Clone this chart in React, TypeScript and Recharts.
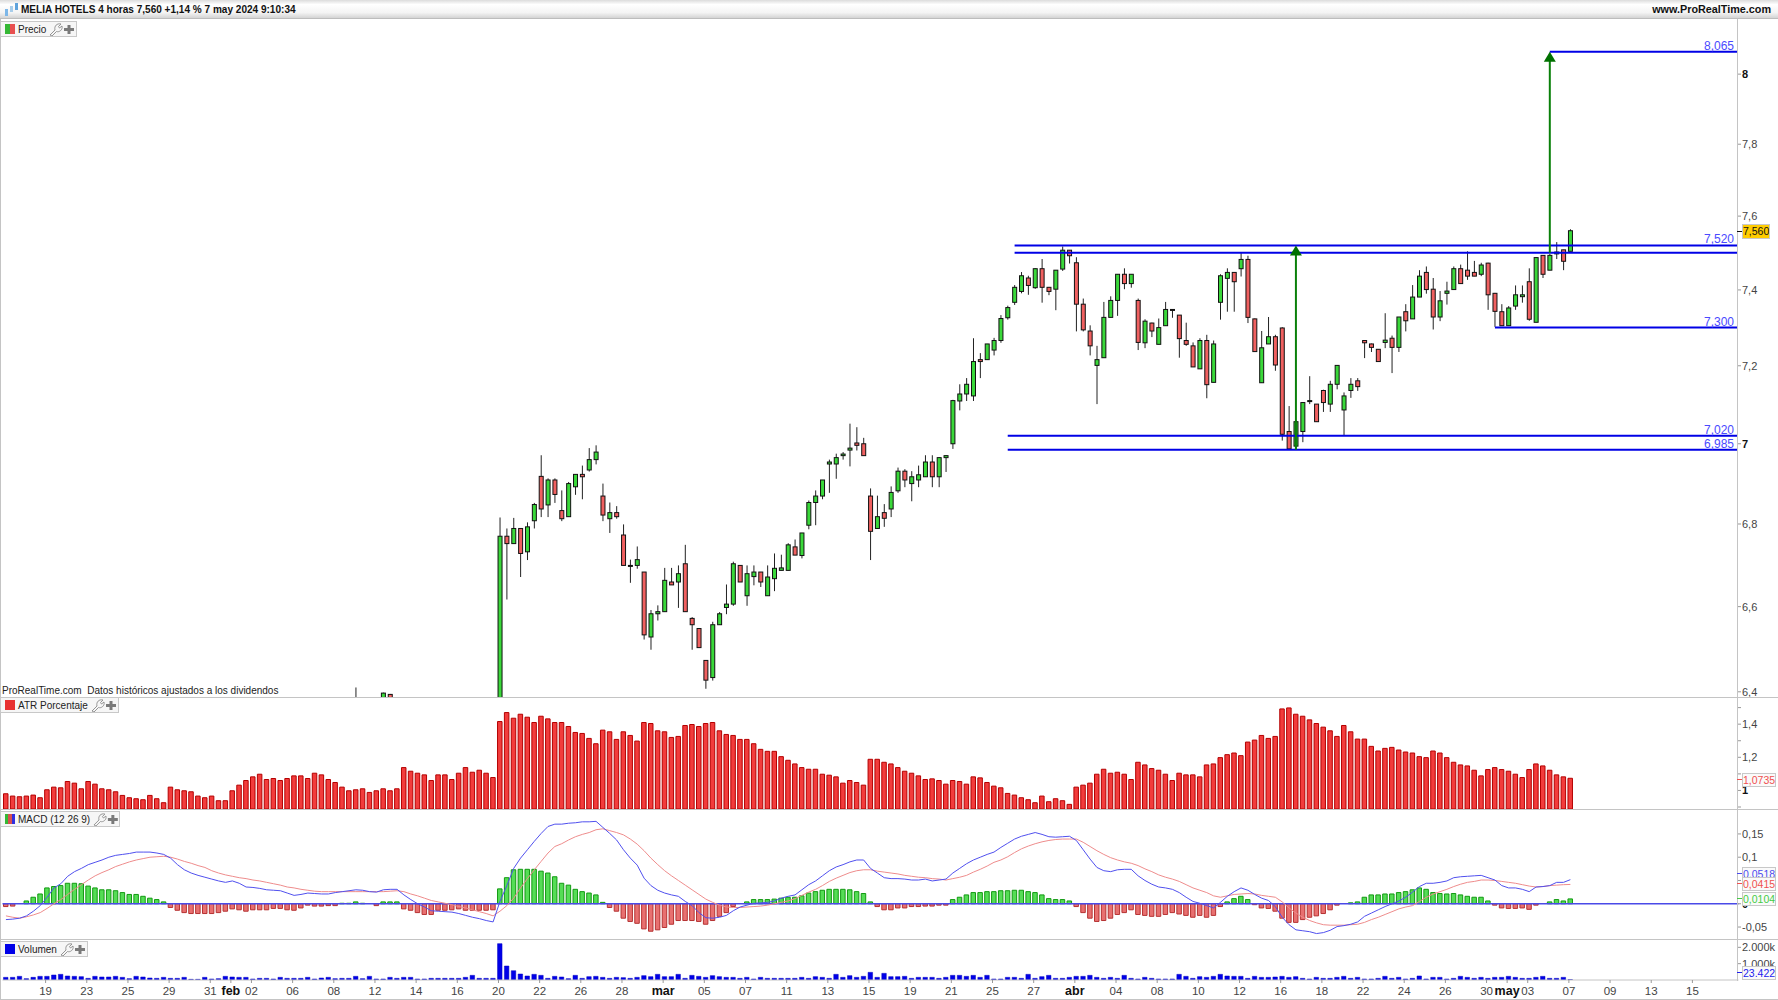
import { Bar, Cell, ComposedChart, Line, ReferenceLine, XAxis, YAxis } from 'recharts'

// bar slots on the shared time axis, the last ones are the empty space to the right
const SLOTS = 253
const CANDLE_START = 72
const FONT = '"Liberation Sans", Arial, sans-serif'

const atrValues = [
  0.98, 0.966, 0.962, 0.966, 0.972, 0.956, 1.004, 1.02, 1.016, 1.054,
  1.044, 1.01, 1.054, 1.038, 1.01, 1.004, 0.992, 0.97, 0.956, 0.95,
  0.944, 0.97, 0.95, 0.926, 1.02, 1.004, 0.998, 0.992, 0.966, 0.956,
  0.966, 0.938, 0.938, 0.998, 1.032, 1.06, 1.082, 1.098, 1.066, 1.072,
  1.06, 1.072, 1.088, 1.088, 1.072, 1.104, 1.094, 1.066, 1.048, 1.02,
  0.998, 1.004, 1.01, 0.988, 0.998, 1.01, 0.998, 1.01, 1.138, 1.116,
  1.104, 1.094, 1.06, 1.094, 1.094, 1.066, 1.104, 1.138, 1.11, 1.122,
  1.104, 1.078, 1.416, 1.47, 1.436, 1.46, 1.442, 1.41, 1.448, 1.432,
  1.41, 1.41, 1.386, 1.35, 1.344, 1.314, 1.282, 1.364, 1.354, 1.308,
  1.354, 1.332, 1.298, 1.41, 1.404, 1.36, 1.354, 1.32, 1.326, 1.392,
  1.398, 1.386, 1.404, 1.41, 1.36, 1.338, 1.332, 1.308, 1.308, 1.282,
  1.248, 1.236, 1.236, 1.204, 1.182, 1.16, 1.138, 1.128, 1.128, 1.098,
  1.092, 1.082, 1.044, 1.06, 1.048, 1.032, 1.188, 1.188, 1.17, 1.16,
  1.138, 1.116, 1.104, 1.088, 1.066, 1.07, 1.06, 1.038, 1.06, 1.054,
  1.038, 1.082, 1.076, 1.048, 1.026, 1.016, 0.982, 0.972, 0.956, 0.944,
  0.926, 0.966, 0.932, 0.95, 0.938, 0.916, 1.02, 1.032, 1.044, 1.098,
  1.128, 1.104, 1.11, 1.098, 1.066, 1.17, 1.154, 1.132, 1.122, 1.098,
  1.06, 1.104, 1.094, 1.094, 1.082, 1.154, 1.16, 1.198, 1.216, 1.226,
  1.21, 1.292, 1.304, 1.332, 1.314, 1.326, 1.492, 1.498, 1.46, 1.448,
  1.426, 1.404, 1.382, 1.36, 1.326, 1.392, 1.354, 1.31, 1.31, 1.266,
  1.238, 1.254, 1.26, 1.244, 1.232, 1.226, 1.204, 1.198, 1.238, 1.226,
  1.198, 1.17, 1.154, 1.148, 1.122, 1.088, 1.126, 1.138, 1.126, 1.116,
  1.098, 1.078, 1.126, 1.16, 1.148, 1.122, 1.094, 1.082, 1.0735,
]

const macdHist = [
  -0.006, -0.005, 0, 0.006, 0.014, 0.021, 0.034, 0.037, 0.039, 0.044,
  0.044, 0.043, 0.038, 0.034, 0.03, 0.03, 0.028, 0.024, 0.02, 0.02,
  0.016, 0.012, 0.009, 0.004, -0.008, -0.014, -0.019, -0.021, -0.021, -0.021,
  -0.021, -0.019, -0.016, -0.011, -0.013, -0.016, -0.013, -0.013, -0.013, -0.01,
  -0.01, -0.013, -0.014, -0.009, -0.003, -0.005, -0.005, -0.004, -0.004, 0.001,
  0.001, 0.004, 0.001, 0, -0.004, 0.004, 0.004, 0.004, -0.011, -0.014,
  -0.019, -0.023, -0.023, -0.014, -0.014, -0.013, -0.011, -0.014, -0.014, -0.014,
  -0.014, -0.013, 0.032, 0.056, 0.073, 0.074, 0.074, 0.074, 0.07, 0.066,
  0.058, 0.044, 0.04, 0.031, 0.026, 0.023, 0.019, 0.003, -0.008, -0.016,
  -0.031, -0.038, -0.042, -0.054, -0.059, -0.056, -0.051, -0.044, -0.036, -0.036,
  -0.036, -0.038, -0.044, -0.036, -0.027, -0.019, -0.006, 0, 0.004, 0.009,
  0.009, 0.009, 0.01, 0.012, 0.014, 0.014, 0.017, 0.023, 0.026, 0.029,
  0.031, 0.031, 0.031, 0.03, 0.026, 0.022, 0.004, -0.006, -0.013, -0.013,
  -0.009, -0.009, -0.006, -0.006, -0.005, -0.005, -0.003, -0.003, 0.009, 0.014,
  0.019, 0.024, 0.024, 0.026, 0.026, 0.028, 0.028, 0.029, 0.029, 0.026,
  0.024, 0.019, 0.011, 0.009, 0.009, 0.006, -0.006, -0.019, -0.031, -0.038,
  -0.036, -0.031, -0.023, -0.019, -0.013, -0.023, -0.025, -0.027, -0.027, -0.023,
  -0.019, -0.022, -0.025, -0.029, -0.025, -0.029, -0.025, -0.006, 0.004, 0.011,
  0.016, 0.009, -0.002, -0.009, -0.01, -0.016, -0.031, -0.04, -0.04, -0.034,
  -0.029, -0.026, -0.021, -0.013, -0.003, 0, 0.002, 0.004, 0.014, 0.019,
  0.019, 0.021, 0.021, 0.024, 0.026, 0.03, 0.034, 0.031, 0.024, 0.022,
  0.021, 0.022, 0.019, 0.016, 0.014, 0.014, 0.006, -0.003, -0.009, -0.01,
  -0.01, -0.009, -0.012, -0.003, 0, 0.004, 0.009, 0.006, 0.0104,
]

const macdLine = [
  -0.034, -0.033, -0.031, -0.026, -0.016, -0.004, 0.014, 0.034, 0.043, 0.059,
  0.069, 0.076, 0.084, 0.089, 0.094, 0.1, 0.104, 0.106, 0.108, 0.111,
  0.111, 0.111, 0.109, 0.106, 0.098, 0.084, 0.073, 0.066, 0.061, 0.057,
  0.053, 0.049, 0.046, 0.049, 0.044, 0.036, 0.035, 0.033, 0.03, 0.029,
  0.028, 0.023, 0.018, 0.02, 0.023, 0.022, 0.021, 0.021, 0.024, 0.026,
  0.028, 0.03, 0.029, 0.026, 0.025, 0.03, 0.031, 0.031, 0.019, 0.009,
  0, -0.007, -0.015, -0.016, -0.017, -0.018, -0.021, -0.025, -0.029, -0.032,
  -0.036, -0.039, 0.005, 0.039, 0.076, 0.098, 0.116, 0.134, 0.151, 0.166,
  0.171, 0.171, 0.173, 0.174, 0.176, 0.176, 0.177, 0.164, 0.151, 0.137,
  0.116, 0.098, 0.083, 0.055, 0.039, 0.029, 0.023, 0.019, 0.016, 0.005,
  -0.004, -0.019, -0.03, -0.031, -0.029, -0.025, -0.015, -0.007, -0.003, 0.001,
  0.002, 0.003, 0.006, 0.012, 0.016, 0.019, 0.03, 0.041, 0.049, 0.06,
  0.071, 0.079, 0.084, 0.09, 0.094, 0.094, 0.076, 0.066, 0.056, 0.054,
  0.054, 0.053, 0.051, 0.051, 0.053, 0.049, 0.051, 0.053, 0.066, 0.076,
  0.086, 0.094, 0.1, 0.106, 0.111, 0.121, 0.13, 0.139, 0.145, 0.149,
  0.153, 0.149, 0.144, 0.143, 0.144, 0.145, 0.136, 0.116, 0.096, 0.078,
  0.071, 0.069, 0.073, 0.074, 0.074, 0.06, 0.05, 0.042, 0.036, 0.034,
  0.031, 0.024, 0.014, 0.005, 0.001, -0.004, -0.009, 0.003, 0.016, 0.026,
  0.034, 0.029, 0.02, 0.012, 0.007, -0.006, -0.029, -0.045, -0.056, -0.058,
  -0.06, -0.064, -0.062, -0.057, -0.049, -0.047, -0.044, -0.039, -0.027, -0.02,
  -0.013, -0.006, 0, 0.006, 0.014, 0.025, 0.037, 0.044, 0.044, 0.046,
  0.049, 0.056, 0.058, 0.059, 0.06, 0.061, 0.056, 0.051, 0.039, 0.034,
  0.034, 0.031, 0.026, 0.036, 0.037, 0.039, 0.046, 0.046, 0.0518,
]

const macdSignal = [
  -0.026, -0.029, -0.031, -0.028, -0.024, -0.019, -0.01, 0, 0.009, 0.02,
  0.031, 0.041, 0.051, 0.06, 0.067, 0.073, 0.08, 0.085, 0.09, 0.094,
  0.097, 0.1, 0.101, 0.102, 0.1, 0.096, 0.091, 0.087, 0.082, 0.078,
  0.071, 0.066, 0.062, 0.059, 0.056, 0.054, 0.051, 0.049, 0.046, 0.043,
  0.04, 0.036, 0.034, 0.031, 0.029, 0.027, 0.026, 0.026, 0.026, 0.026,
  0.026, 0.026, 0.026, 0.026, 0.026, 0.026, 0.027, 0.028, 0.026, 0.021,
  0.017, 0.012, 0.007, 0.004, 0.001, -0.002, -0.006, -0.009, -0.013, -0.017,
  -0.021, -0.026, -0.016, -0.004, 0.012, 0.034, 0.054, 0.073, 0.091, 0.109,
  0.123, 0.129, 0.137, 0.144, 0.149, 0.153, 0.159, 0.161, 0.157, 0.153,
  0.148, 0.139, 0.128, 0.114, 0.098, 0.084, 0.071, 0.06, 0.05, 0.04,
  0.03, 0.02, 0.01, 0.003, -0.003, -0.007, -0.008, -0.008, -0.007, -0.006,
  -0.005, -0.003, 0, 0.003, 0.006, 0.011, 0.018, 0.025, 0.031, 0.039,
  0.048, 0.055, 0.061, 0.067, 0.071, 0.073, 0.073, 0.07, 0.068, 0.066,
  0.064, 0.061, 0.059, 0.057, 0.056, 0.054, 0.053, 0.051, 0.054, 0.057,
  0.061, 0.068, 0.074, 0.081, 0.089, 0.094, 0.101, 0.11, 0.118, 0.124,
  0.129, 0.133, 0.136, 0.138, 0.139, 0.139, 0.139, 0.132, 0.123, 0.114,
  0.106, 0.099, 0.094, 0.09, 0.087, 0.082, 0.075, 0.069, 0.062, 0.057,
  0.053, 0.048, 0.041, 0.034, 0.029, 0.024, 0.017, 0.014, 0.017, 0.02,
  0.021, 0.022, 0.021, 0.018, 0.016, 0.014, 0.004, -0.009, -0.02, -0.029,
  -0.036, -0.041, -0.045, -0.046, -0.046, -0.046, -0.045, -0.044, -0.04, -0.034,
  -0.029, -0.023, -0.017, -0.011, -0.007, -0.004, 0.005, 0.014, 0.021, 0.026,
  0.031, 0.037, 0.042, 0.046, 0.048, 0.051, 0.051, 0.05, 0.048, 0.046,
  0.044, 0.041, 0.038, 0.036, 0.037, 0.039, 0.04, 0.041, 0.0415,
]

// volume in thousands
const volumeK = [
  163, 163, 224, 82, 163, 224, 224, 306, 347, 245,
  224, 204, 102, 224, 184, 184, 224, 163, 82, 224,
  184, 122, 102, 163, 102, 102, 163, 41, 41, 163,
  61, 82, 224, 184, 163, 163, 61, 102, 102, 61,
  163, 102, 102, 102, 163, 61, 122, 163, 82, 102,
  102, 224, 82, 224, 61, 61, 163, 102, 163, 163,
  61, 61, 102, 102, 102, 102, 102, 163, 286, 102,
  102, 102, 2224, 857, 571, 367, 245, 347, 286, 102,
  224, 184, 82, 286, 102, 204, 224, 163, 102, 163,
  143, 102, 163, 265, 204, 347, 204, 204, 347, 102,
  286, 224, 163, 265, 204, 163, 163, 102, 163, 61,
  163, 102, 102, 102, 102, 102, 163, 102, 204, 163,
  102, 347, 163, 265, 163, 224, 469, 163, 408, 204,
  204, 224, 102, 163, 163, 163, 102, 163, 286, 286,
  224, 286, 163, 286, 61, 61, 163, 163, 102, 347,
  102, 204, 286, 102, 102, 163, 224, 224, 286, 163,
  102, 163, 102, 286, 102, 61, 163, 102, 61, 61,
  61, 347, 224, 102, 204, 163, 224, 347, 245, 224,
  224, 102, 224, 163, 163, 184, 224, 163, 204, 102,
  61, 163, 102, 102, 163, 224, 102, 163, 61, 61,
  102, 224, 102, 163, 61, 102, 245, 61, 163, 163,
  61, 102, 224, 163, 102, 163, 102, 163, 163, 224,
  163, 102, 102, 163, 224, 102, 102, 163, 23.422,
]

const opens = [
  6.3, 6.77, 6.752, 6.789, 6.732, 6.808, 6.918, 6.847, 6.909, 6.833,
  6.818, 6.892, 6.923, 6.934, 6.96, 6.869, 6.813, 6.828, 6.773, 6.698,
  6.699, 6.683, 6.528, 6.583, 6.588, 6.659, 6.659, 6.703, 6.572, 6.548,
  6.473, 6.433, 6.557, 6.598, 6.606, 6.699, 6.626, 6.672, 6.683, 6.626,
  6.667, 6.687, 6.687, 6.744, 6.723, 6.797, 6.853, 6.869, 6.949, 6.949,
  6.97, 6.984, 7.002, 7, 6.869, 6.789, 6.828, 6.837, 6.882, 6.931,
  6.9, 6.909, 6.917, 6.954, 6.917, 6.965, 7, 7.109, 7.127, 7.122,
  7.216, 7.216, 7.241, 7.266, 7.326, 7.367, 7.396, 7.432, 7.406, 7.457,
  7.407, 7.402, 7.456, 7.507, 7.473, 7.362, 7.291, 7.201, 7.221, 7.327,
  7.372, 7.442, 7.417, 7.372, 7.26, 7.312, 7.256, 7.305, 7.348, 7.333,
  7.266, 7.252, 7.192, 7.266, 7.157, 7.367, 7.431, 7.447, 7.457, 7.482,
  7.323, 7.156, 7.257, 7.276, 7.299, 7.031, 6.994, 7.031, 7.108, 7.101,
  7.136, 7.101, 7.152, 7.086, 7.136, 7.161, 7.266, 7.257, 7.243, 7.261,
  7.272, 7.248, 7.342, 7.323, 7.381, 7.447, 7.402, 7.328, 7.391, 7.401,
  7.457, 7.453, 7.447, 7.442, 7.472, 7.391, 7.342, 7.305, 7.357, 7.382,
  7.422, 7.314, 7.493, 7.453, 7.497, 7.508, 7.504,
]

const highs = [
  6.816, 6.789, 6.815, 6.789, 6.804, 6.852, 6.971, 6.913, 6.913, 6.883,
  6.904, 6.923, 6.945, 6.989, 6.996, 6.9, 6.853, 6.844, 6.799, 6.713,
  6.745, 6.683, 6.592, 6.603, 6.693, 6.693, 6.699, 6.749, 6.575, 6.548,
  6.473, 6.564, 6.587, 6.653, 6.708, 6.699, 6.699, 6.699, 6.683, 6.699,
  6.728, 6.725, 6.753, 6.762, 6.778, 6.858, 6.883, 6.909, 6.96, 6.975,
  6.979, 7.051, 7.042, 7.015, 6.888, 6.87, 6.849, 6.893, 6.94, 6.936,
  6.931, 6.945, 6.971, 6.971, 6.966, 6.971, 7.112, 7.152, 7.168, 7.272,
  7.233, 7.257, 7.273, 7.333, 7.358, 7.413, 7.448, 7.438, 7.458, 7.483,
  7.408, 7.453, 7.517, 7.507, 7.488, 7.377, 7.306, 7.252, 7.368, 7.383,
  7.442, 7.458, 7.442, 7.377, 7.322, 7.313, 7.324, 7.368, 7.348, 7.333,
  7.313, 7.261, 7.272, 7.281, 7.266, 7.442, 7.458, 7.447, 7.502, 7.492,
  7.324, 7.291, 7.328, 7.281, 7.301, 7.096, 7.06, 7.106, 7.173, 7.101,
  7.138, 7.161, 7.202, 7.131, 7.168, 7.168, 7.266, 7.258, 7.243, 7.338,
  7.279, 7.328, 7.362, 7.413, 7.453, 7.463, 7.432, 7.397, 7.422, 7.463,
  7.468, 7.504, 7.478, 7.473, 7.473, 7.392, 7.362, 7.357, 7.412, 7.412,
  7.458, 7.488, 7.493, 7.497, 7.529, 7.508, 7.564,
]

const lows = [
  6.28, 6.617, 6.752, 6.671, 6.712, 6.789, 6.817, 6.817, 6.852, 6.807,
  6.818, 6.872, 6.861, 6.93, 6.948, 6.807, 6.778, 6.813, 6.699, 6.657,
  6.691, 6.522, 6.498, 6.567, 6.588, 6.652, 6.597, 6.588, 6.498, 6.503,
  6.407, 6.426, 6.557, 6.582, 6.602, 6.659, 6.602, 6.651, 6.647, 6.626,
  6.637, 6.687, 6.687, 6.724, 6.716, 6.787, 6.797, 6.861, 6.877, 6.912,
  6.96, 6.943, 6.983, 6.97, 6.712, 6.789, 6.793, 6.817, 6.877, 6.891,
  6.856, 6.891, 6.917, 6.891, 6.891, 6.929, 6.987, 7.085, 7.109, 7.109,
  7.168, 7.216, 7.227, 7.26, 7.321, 7.36, 7.391, 7.387, 7.403, 7.366,
  7.386, 7.346, 7.451, 7.471, 7.29, 7.29, 7.227, 7.101, 7.221, 7.327,
  7.331, 7.402, 7.406, 7.241, 7.246, 7.275, 7.256, 7.305, 7.326, 7.221,
  7.252, 7.197, 7.192, 7.116, 7.157, 7.321, 7.342, 7.342, 7.436, 7.312,
  7.237, 7.156, 7.257, 7.187, 7.008, 6.987, 6.987, 7.004, 7.101, 7.056,
  7.081, 7.081, 7.139, 7.021, 7.117, 7.135, 7.22, 7.236, 7.211, 7.246,
  7.181, 7.236, 7.29, 7.323, 7.381, 7.39, 7.295, 7.317, 7.361, 7.401,
  7.417, 7.427, 7.437, 7.437, 7.347, 7.302, 7.305, 7.305, 7.347, 7.366,
  7.318, 7.314, 7.432, 7.453, 7.483, 7.453, 7.504,
]

const closes = [
  6.77, 6.752, 6.789, 6.728, 6.793, 6.848, 6.837, 6.909, 6.873, 6.813,
  6.9, 6.923, 6.917, 6.96, 6.979, 6.822, 6.828, 6.818, 6.699, 6.699,
  6.713, 6.533, 6.583, 6.588, 6.663, 6.652, 6.679, 6.588, 6.557, 6.503,
  6.427, 6.557, 6.583, 6.606, 6.703, 6.659, 6.679, 6.683, 6.659, 6.671,
  6.692, 6.693, 6.749, 6.724, 6.778, 6.853, 6.869, 6.909, 6.954, 6.965,
  6.974, 6.989, 6.996, 6.97, 6.782, 6.818, 6.814, 6.878, 6.931, 6.909,
  6.917, 6.922, 6.954, 6.917, 6.965, 6.97, 7.11, 7.127, 7.152, 7.211,
  7.211, 7.257, 7.266, 7.324, 7.353, 7.407, 7.438, 7.412, 7.457, 7.407,
  7.396, 7.453, 7.507, 7.492, 7.362, 7.294, 7.252, 7.216, 7.327, 7.372,
  7.442, 7.417, 7.442, 7.261, 7.317, 7.291, 7.3, 7.348, 7.347, 7.271,
  7.256, 7.197, 7.266, 7.151, 7.257, 7.438, 7.447, 7.422, 7.482, 7.327,
  7.237, 7.247, 7.276, 7.202, 7.024, 6.987, 7.056, 7.105, 7.11, 7.056,
  7.105, 7.152, 7.201, 7.122, 7.152, 7.146, 7.26, 7.248, 7.211, 7.267,
  7.248, 7.328, 7.318, 7.381, 7.437, 7.401, 7.328, 7.371, 7.397, 7.457,
  7.417, 7.437, 7.437, 7.467, 7.387, 7.343, 7.305, 7.352, 7.387, 7.387,
  7.322, 7.487, 7.442, 7.493, 7.502, 7.477, 7.56,
]

// the few older candles whose tops just show above the bottom of the price panel
const earlySlots = [51, 55, 56]
const earlyOpens = [6.34, 6.36, 6.394]
const earlyHighs = [6.41, 6.398, 6.395]
const earlyLows = [6.3, 6.34, 6.33]
const earlyCloses = [6.35, 6.397, 6.36]

const timeTicks = [6, 12, 18, 24, 30, 33, 36, 42, 48, 54, 60, 66, 72, 78, 84, 90, 96, 102, 108, 114, 120, 126, 132, 138, 144, 150, 156, 162, 168, 174, 180, 186, 192, 198, 204, 210, 216, 219, 222, 228, 234, 240, 246]
const timeLabels = ['19', '23', '25', '29', '31', 'feb', '02', '06', '08', '12', '14', '16', '20', '22', '26', '28', 'mar', '05', '07', '11', '13', '15', '19', '21', '25', '27', 'abr', '04', '08', '10', '12', '16', '18', '22', '24', '26', '30', 'may', '03', '07', '09', '13', '15']

const priceTicks = [6.4, 6.6, 6.8, 7, 7.2, 7.4, 7.6, 7.8, 8]
const atrTicks = [0.9, 1, 1.1, 1.2, 1.3, 1.4, 1.5]
const macdTicks = [-0.05, 0, 0.05, 0.1, 0.15]
const volumeTicks = [1000, 2000]

// horizontal levels: price, first slot, label
const levels: [number, number, string][] = [
  [8.065, 225, '8,065'],
  [7.52, 147, '7,520'],
  [7.5, 147, ''],
  [7.3, 217, '7,300'],
  [7.02, 146, '7,020'],
  [6.985, 146, '6,985'],
]
// target arrows: slot, from, to
const arrows: [number, number, number][] = [
  [188, 6.985, 7.52],
  [225, 7.5, 8.065],
]

const rows = Array.from({ length: SLOTS }, (_, i) => {
  const e = earlySlots.indexOf(i)
  const c = i - CANDLE_START
  return {
    i,
    atr: atrValues[i] ?? null,
    hist: macdHist[i] ?? null,
    macd: macdLine[i] ?? null,
    signal: macdSignal[i] ?? null,
    volume: volumeK[i] ?? null,
    open: e >= 0 ? earlyOpens[e] : opens[c] ?? null,
    high: e >= 0 ? earlyHighs[e] : highs[c] ?? null,
    low: e >= 0 ? earlyLows[e] : lows[c] ?? null,
    close: e >= 0 ? earlyCloses[e] : closes[c] ?? null,
  }
})

const PLOT_RIGHT = 1737
const X_SHIFT = 1.5
const MARGIN = { top: 0, right: 0, bottom: 0, left: 1 + X_SHIFT }
const Y_AXIS_WIDTH = 41 - X_SHIFT

function fmt(v: number) {
  return String(v).replace('.', ',')
}

// body and wick are placed inside the high-low range the bar gets from the log axis
function Candle(props: any) {
  const { x, y, width, height, payload } = props
  if (payload.high == null) return null
  const top = Math.min(y, y + height)
  const h = Math.abs(height)
  const span = Math.log(payload.high / payload.low)
  const yOf = (p: number) => top + (h * Math.log(payload.high / p)) / span
  const cx = x + width / 2
  const up = payload.close >= payload.open
  const bodyTop = yOf(Math.max(payload.open, payload.close))
  const bodyBottom = yOf(Math.min(payload.open, payload.close))
  return (
    <g>
      <line x1={cx} x2={cx} y1={top} y2={top + h} stroke="#222" strokeWidth={1} />
      <rect
        x={cx - 2}
        y={bodyTop}
        width={4}
        height={Math.max(bodyBottom - bodyTop, 1)}
        fill={up ? '#3ad83a' : '#f06060'}
        stroke="#111"
        strokeWidth={1}
      />
    </g>
  )
}

function levelShape(label: string) {
  return (p: any) => (
    <g>
      <line x1={p.x1} x2={PLOT_RIGHT} y1={p.y1} y2={p.y2} stroke="#0000e6" strokeWidth={2} />
      {label && (
        <text x={PLOT_RIGHT - 3} y={p.y1 - 2} textAnchor="end" fontFamily={FONT} fontSize={12} fill="#4a4aff">
          {label}
        </text>
      )}
    </g>
  )
}

function arrowShape(p: any) {
  const top = Math.min(p.y1, p.y2)
  const bottom = Math.max(p.y1, p.y2)
  return (
    <g>
      <line x1={p.x1} x2={p.x1} y1={top + 8} y2={bottom} stroke="#0a800a" strokeWidth={2} />
      <polygon points={`${p.x1},${top} ${p.x1 - 6},${top + 10} ${p.x1 + 6},${top + 10}`} fill="#007000" />
    </g>
  )
}

function axisTick(format: (v: number) => string, boldValue: (v: number) => boolean) {
  return (p: any) => {
    const v = p.payload.value
    const bold = boldValue(v)
    return (
      <g>
        <line x1={PLOT_RIGHT} x2={PLOT_RIGHT + 4} y1={p.y} y2={p.y} stroke="#999" />
        <text x={PLOT_RIGHT + 5} y={p.y + 4} fontFamily={FONT} fontSize={11} fontWeight={bold ? 700 : 400} fill={bold ? '#111' : '#444'}>
          {format(v)}
        </text>
      </g>
    )
  }
}

function TimeTick(p: any) {
  const label = timeLabels[timeTicks.indexOf(p.payload.value)]
  const bold = label.length === 3
  const x = p.x - X_SHIFT
  return (
    <g>
      <line x1={x} x2={x} y1={40} y2={43} stroke="#999" />
      <text x={x} y={55} textAnchor="middle" fontFamily={FONT} fontSize={bold ? 12.5 : 11.5} fontWeight={bold ? 700 : 400} fill={bold ? '#111' : '#444'}>
        {label}
      </text>
    </g>
  )
}

function Panel({ top, height, children }: { top: number; height: number; children: any }) {
  return (
    <div style={{ position: 'absolute', left: 0, top, width: 1778, height }}>
      <ComposedChart width={1778} height={height} data={rows} margin={MARGIN} barCategoryGap={0}>
        {children}
      </ComposedChart>
    </div>
  )
}

function Swatch({ colors }: { colors: string[] }) {
  return (
    <span style={{ display: 'inline-flex', width: 10, height: 10, marginRight: 3 }}>
      {colors.map((c) => (
        <span key={c} style={{ flex: 1, background: c }} />
      ))}
    </span>
  )
}

function Tab({ top, width, label, colors }: { top: number; width: number; label: string; colors: string[] }) {
  return (
    <div
      style={{
        position: 'absolute', left: 0, top, width, height: 16, boxSizing: 'border-box', background: '#f6f6f6',
        border: '1px solid #c8c8c8', display: 'flex', alignItems: 'center', paddingLeft: 4,
        fontFamily: FONT, fontSize: 10, color: '#222', whiteSpace: 'nowrap',
      }}
    >
      <Swatch colors={colors} />
      <span style={{ marginRight: 3 }}>{label}</span>
      <svg width={26} height={13} viewBox="0 0 26 13">
        <path d="M1 12 L6 7 C5 3 8 0 12 1 L9.5 3.5 L10.5 5 L13 3 C14 7 10 9.5 7.5 8.5 L3 13 Z" fill="none" stroke="#8a8a8a" strokeWidth={0.9} />
        <path d="M18.5 2 H21.5 V5 H25 V8 H21.5 V11 H18.5 V8 H15 V5 H18.5 Z" fill="#7a7a7a" />
      </svg>
    </div>
  )
}

function ValueBox({ top, color, text, bg = '#fafafa', height = 14, width = 34 }: { top: number; color: string; text: string; bg?: string; height?: number; width?: number }) {
  return (
    <>
      <div style={{ position: 'absolute', left: PLOT_RIGHT, top: top + height / 2 - 1, width: 5, height: 1, background: color }} />
      <div
        style={{
          position: 'absolute', left: 1742, top, width, height, boxSizing: 'border-box', background: bg,
          border: '1px solid #c8c8c8', fontFamily: FONT, fontSize: 10.5, lineHeight: `${height - 2}px`,
          color, whiteSpace: 'nowrap', overflow: 'hidden',
        }}
      >
        {text}
      </div>
    </>
  )
}

function Rule({ top }: { top: number }) {
  return <div style={{ position: 'absolute', left: 0, top, width: 1778, height: 1, background: '#c4c4c4' }} />
}

export default function App() {
  return (
    <div style={{ position: 'fixed', left: 0, top: 0, width: 1778, height: 1000, background: '#fff', overflow: 'hidden' }}>
      <Panel top={20} height={677}>
        <XAxis dataKey="i" hide />
        <YAxis
          orientation="right"
          width={Y_AXIS_WIDTH}
          type="number"
          scale="log"
          domain={[6.388, 8.158]}
          ticks={priceTicks}
          allowDataOverflow
          interval={0}
          tickLine={false}
          axisLine={false}
          tick={axisTick(fmt, (v) => v === 7 || v === 8)}
        />
        <Bar
          dataKey={(d: any) => (d.high == null ? null : [d.low, d.high])}
          shape={Candle}
          isAnimationActive={false}
        />
        {levels.map(([price, from, label]) => (
          <ReferenceLine
            key={price}
            segment={[{ x: from, y: price }, { x: SLOTS - 1, y: price }]}
            shape={levelShape(label)}
          />
        ))}
        {arrows.map(([slot, from, to]) => (
          <ReferenceLine key={slot} segment={[{ x: slot, y: from }, { x: slot, y: to }]} shape={arrowShape} />
        ))}
      </Panel>

      <Panel top={697} height={112}>
        <XAxis dataKey="i" hide />
        <YAxis
          orientation="right"
          width={Y_AXIS_WIDTH}
          type="number"
          domain={[0.888, 1.564]}
          ticks={atrTicks}
          allowDataOverflow
          interval={0}
          tickLine={false}
          axisLine={false}
          tick={axisTick((v) => (v === 1 || v === 1.2 || v === 1.4 ? fmt(v) : ''), (v) => v === 1)}
        />
        <Bar dataKey="atr" barSize={4.5} fill="#f23c3c" stroke="#b40000" strokeWidth={1} isAnimationActive={false} />
      </Panel>

      <Panel top={810} height={129}>
        <XAxis dataKey="i" hide />
        <YAxis
          orientation="right"
          width={Y_AXIS_WIDTH}
          type="number"
          domain={[-0.0757, 0.2014]}
          ticks={macdTicks}
          allowDataOverflow
          interval={0}
          tickLine={false}
          axisLine={false}
          tick={axisTick((v) => (v === 0.05 ? '' : fmt(v)), (v) => v === 0)}
        />
        <Bar dataKey="hist" barSize={4.5} strokeWidth={1} isAnimationActive={false}>
          {rows.map((r) => (
            <Cell
              key={r.i}
              fill={(r.hist ?? 0) >= 0 ? '#55dd55' : '#e87070'}
              stroke={(r.hist ?? 0) >= 0 ? '#129912' : '#b53232'}
            />
          ))}
        </Bar>
        <ReferenceLine y={0} stroke="#4a4ae8" strokeWidth={1.5} />
        <Line dataKey="signal" type="linear" dot={false} stroke="#ee8c8c" strokeWidth={1} isAnimationActive={false} />
        <Line dataKey="macd" type="linear" dot={false} stroke="#5050ee" strokeWidth={1} isAnimationActive={false} />
      </Panel>

      <Panel top={940} height={59}>
        <XAxis
          dataKey="i"
          height={19}
          ticks={timeTicks}
          interval={0}
          tickLine={false}
          axisLine={{ stroke: '#c4c4c4' }}
          tick={TimeTick}
        />
        <YAxis
          orientation="right"
          width={Y_AXIS_WIDTH}
          type="number"
          domain={[0, 2449]}
          ticks={volumeTicks}
          allowDataOverflow
          interval={0}
          tickLine={false}
          axisLine={false}
          tick={axisTick((v) => `${v / 1000}.000k`, () => false)}
        />
        <Bar dataKey="volume" barSize={4.5} fill="#0000e8" stroke="#0000c0" strokeWidth={0.5} isAnimationActive={false} />
      </Panel>

      <Rule top={697} />
      <Rule top={809} />
      <Rule top={939} />
      <Rule top={999} />
      <div style={{ position: 'absolute', left: 0, top: 18, width: 1, height: 982, background: '#c4c4c4' }} />
      <div style={{ position: 'absolute', left: PLOT_RIGHT, top: 18, width: 1, height: 963, background: '#c4c4c4' }} />

      {/* title strip */}
      <div
        style={{
          position: 'absolute', left: 0, top: 0, width: 1778, height: 19, boxSizing: 'border-box',
          background: 'linear-gradient(#dcdcdc, #ffffff 25%, #f4f4f4 70%, #d4d4d4)', borderBottom: '1px solid #bdbdbd',
        }}
      >
        <svg width={16} height={16} style={{ position: 'absolute', left: 4, top: 2 }}>
          <rect x={1} y={7} width={3} height={7} fill="#7db7e8" />
          <rect x={6} y={4} width={3} height={6} fill="#a8cdea" />
          <rect x={11} y={1} width={3} height={7} fill="#5fa3dc" />
        </svg>
        <div
          style={{
            position: 'absolute', left: 21, top: 3, fontFamily: FONT, fontSize: 11, fontWeight: 700, color: '#111',
            whiteSpace: 'nowrap', transform: 'scaleX(0.913)', transformOrigin: 'left center',
          }}
        >
          MELIA HOTELS 4 horas 7,560 +1,14 % 7 may 2024 9:10:34
        </div>
        <div style={{ position: 'absolute', right: 7, top: 3, fontFamily: FONT, fontSize: 10.8, fontWeight: 700, color: '#111', whiteSpace: 'nowrap' }}>
          www.ProRealTime.com
        </div>
      </div>

      <Tab top={21} width={77} label="Precio" colors={['#35b835', '#e85050']} />
      <Tab top={697} width={119} label="ATR Porcentaje" colors={['#e83030']} />
      <Tab top={811} width={120} label="MACD (12 26 9)" colors={['#35b835', '#d85050', '#3030e0']} />
      <Tab top={941} width={88} label="Volumen" colors={['#0000e8']} />

      <div style={{ position: 'absolute', left: 2, top: 685, fontFamily: FONT, fontSize: 10, color: '#222', whiteSpace: 'nowrap' }}>
        ProRealTime.com&nbsp; Datos históricos ajustados a los dividendos
      </div>

      <ValueBox top={224} color="#111" bg="#ffcc00" text="7,560" height={15} width={28} />
      <ValueBox top={773} color="#f05050" text="1,0735" />
      <ValueBox top={867} color="#4a4aee" text="0,0518" />
      <ValueBox top={877} color="#f05050" text="0,0415" />
      <ValueBox top={892} color="#44cc44" text="0,0104" />
      <ValueBox top={966} color="#2222ee" text="23.422" />
    </div>
  )
}
